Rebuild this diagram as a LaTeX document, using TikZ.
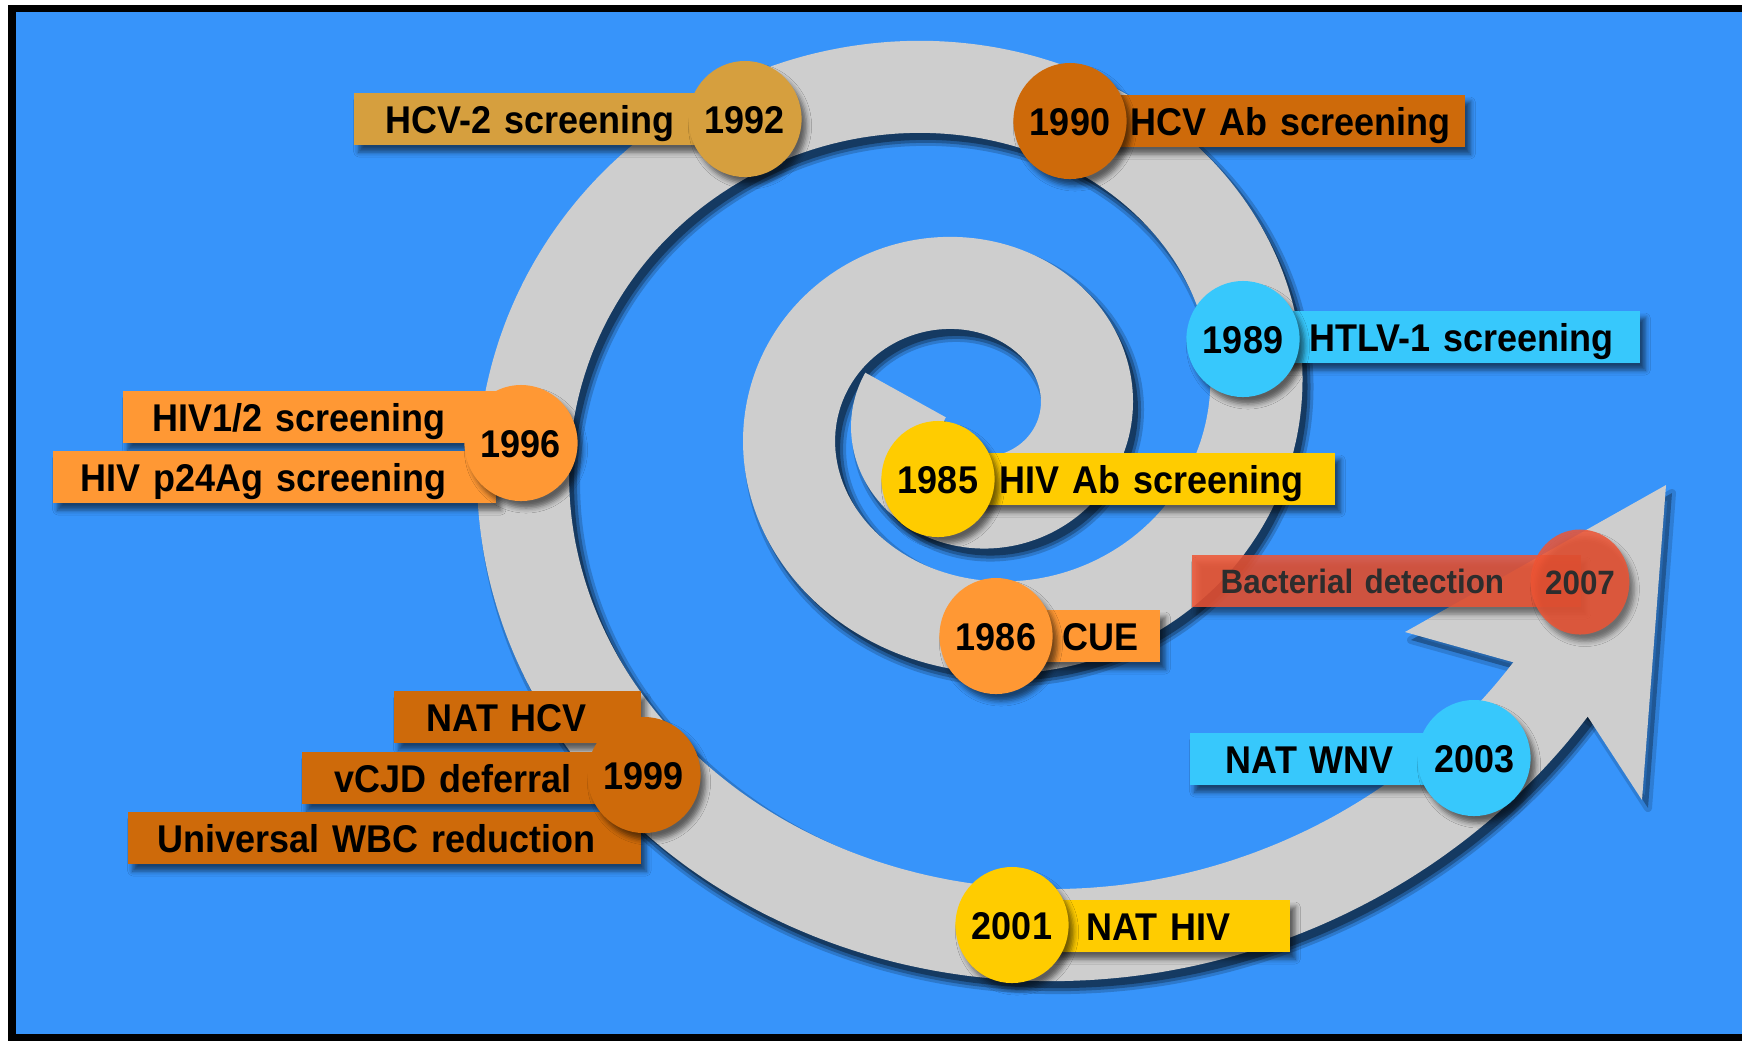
\documentclass[tikz,border=0pt]{standalone}
\usepackage{fontspec}
\setmainfont{Liberation Sans}[FakeStretch=0.93]
\usetikzlibrary{shapes.geometric,shadows.blur}

\definecolor{bgblue}{RGB}{55,148,250}
\definecolor{ribbongray}{RGB}{206,206,206}
\definecolor{goldtag}{RGB}{214,159,62}
\definecolor{rusttag}{RGB}{206,106,10}
\definecolor{cyantag}{RGB}{55,200,252}
\definecolor{yellowtag}{RGB}{255,204,0}
\definecolor{orangetag}{RGB}{255,152,52}
\definecolor{redtag}{RGB}{238,84,52}
\definecolor{darktext}{RGB}{45,45,45}

\newcommand{\lbl}{\bfseries\fontsize{11}{13}\selectfont}
\newcommand{\lblsmall}{\bfseries\fontsize{9.6}{11}\selectfont}

\tikzset{
  softshadow/.style={blur shadow={shadow xshift=0.05cm, shadow yshift=-0.07cm,
      shadow opacity=55, shadow blur radius=0.05cm}},
  tag/.style={rectangle, fill=#1, minimum height=0.52cm, inner ysep=0pt,
    text height=0.28cm, text depth=0pt, font=\lbl, softshadow},
  year/.style={ellipse, fill=#1, minimum width=1.07cm, minimum height=1.16cm,
    inner sep=0pt, text height=0.28cm, text depth=0pt, font=\lbl, softshadow},
  ribbon/.style={line width=0.92cm, ribbongray, line join=round},
}

\begin{document}
\begin{tikzpicture}[x=0.01cm,y=-0.01cm]
% frame
\fill[white] (0,0) rectangle (1742,1041);
\fill[black] (8,5) rectangle (1742,1041);
\fill[bgblue] (16,12) rectangle (1742,1034);

% spiral with its shadow
\foreach \w/\o in {1.02/0.18, 0.96/0.25, 0.9/0.35}
  \draw[line width=\w cm, black, opacity=\o, line join=round, shift={(6,8)}]
    plot[domain=-200:696, samples=300, smooth, variable=\t]
    ({971+114.8*exp(0.002506*\t)*cos(\t)}, {417-106*exp(0.002506*\t)*sin(\t)});
\fill[black, opacity=0.3, shift={(6,8)}] (1516,663) -- (1405,632) -- (1666,485) -- (1642,800) -- (1588,717) -- cycle;
\draw[black, opacity=0.15, line width=0.08cm, line join=round, shift={(6,8)}] (1516,663) -- (1405,632) -- (1666,485) -- (1642,800) -- (1588,717) -- cycle;
\draw[ribbon]
  plot[domain=-200:696, samples=300, smooth, variable=\t]
  ({971+114.8*exp(0.002506*\t)*cos(\t)}, {417-106*exp(0.002506*\t)*sin(\t)});
\fill[ribbongray] (1516,663) -- (1405,632) -- (1666,485) -- (1642,800) -- (1588,717) -- cycle;

% 1985
\node[tag=yellowtag, anchor=east, inner xsep=0.32cm, text width=3.34cm, align=right] (hivab) at (1336,479) {HIV Ab screening};
\node[year=yellowtag] (y1985) at (938,479) {1985};
% 1986
\node[tag=orangetag, anchor=east, inner xsep=0.22cm, text width=1.21cm, align=right] (cue) at (1161,636) {CUE};
\node[year=orangetag] (y1986) at (996,636) {1986};
% 1989
\node[tag=cyantag, anchor=east, inner xsep=0.27cm, text width=3.44cm, align=right] (htlv) at (1641,337) {HTLV-1 screening};
\node[year=cyantag] (y1989) at (1243,339) {1989};
% 1990
\node[tag=rusttag, anchor=east, inner xsep=0.15cm, text width=3.66cm, align=right] (hcvab) at (1466,121) {HCV Ab screening};
\node[year=rusttag] (y1990) at (1070,121) {1990};
% 1992
\node[tag=goldtag, anchor=west, inner xsep=0.32cm, text width=3.28cm, align=left] (hcvtwo) at (353,119) {HCV-2 screening};
\node[year=goldtag] (y1992) at (745,119) {1992};
% 1996
\node[tag=orangetag, anchor=west, inner xsep=0.3cm, text width=3.13cm, align=left] (hivtwo) at (122,417) {HIV1/2 screening};
\node[tag=orangetag, anchor=west, inner xsep=0.28cm, text width=3.87cm, align=left] (ptwofour) at (52,477) {HIV p24Ag screening};
\node[year=orangetag] (y1996) at (521,443) {1996};
% 1999
\node[tag=rusttag, anchor=west, inner xsep=0.33cm, text width=1.81cm, align=left] (nathcv) at (393,717) {NAT HCV};
\node[tag=rusttag, anchor=west, inner xsep=0.33cm, text width=2.77cm, align=left] (vcjd) at (301,778) {vCJD deferral};
\node[tag=rusttag, anchor=west, inner xsep=0.3cm, text width=4.53cm, align=left] (wbc) at (127,838) {Universal WBC reduction};
\node[year=rusttag] (y1999) at (644,775) {1999};
% 2001
\node[tag=yellowtag, anchor=east, inner xsep=0.6cm, text width=1.6cm, align=right] (nathiv) at (1291,926) {NAT HIV};
\node[year=yellowtag] (y2001) at (1012,925) {2001};
% 2003
\node[tag=cyantag, anchor=west, inner xsep=0.36cm, text width=2.09cm, align=left] (natwnv) at (1189,759) {NAT WNV};
\node[year=cyantag] (y2003) at (1474,758) {2003};
% 2007
\node[tag=redtag, fill opacity=0.85, text opacity=1, text=darktext, font=\lblsmall, text height=0.24cm,
  anchor=west, inner xsep=0.29cm, text width=3.31cm, align=left] (bact) at (1191,581) {Bacterial detection};
\node[year=redtag, fill opacity=0.85, text opacity=1, text=darktext, font=\lblsmall, text height=0.24cm,
  minimum width=0.97cm, minimum height=1.05cm] (y2007) at (1580,582) {2007};
\end{tikzpicture}
\end{document}
